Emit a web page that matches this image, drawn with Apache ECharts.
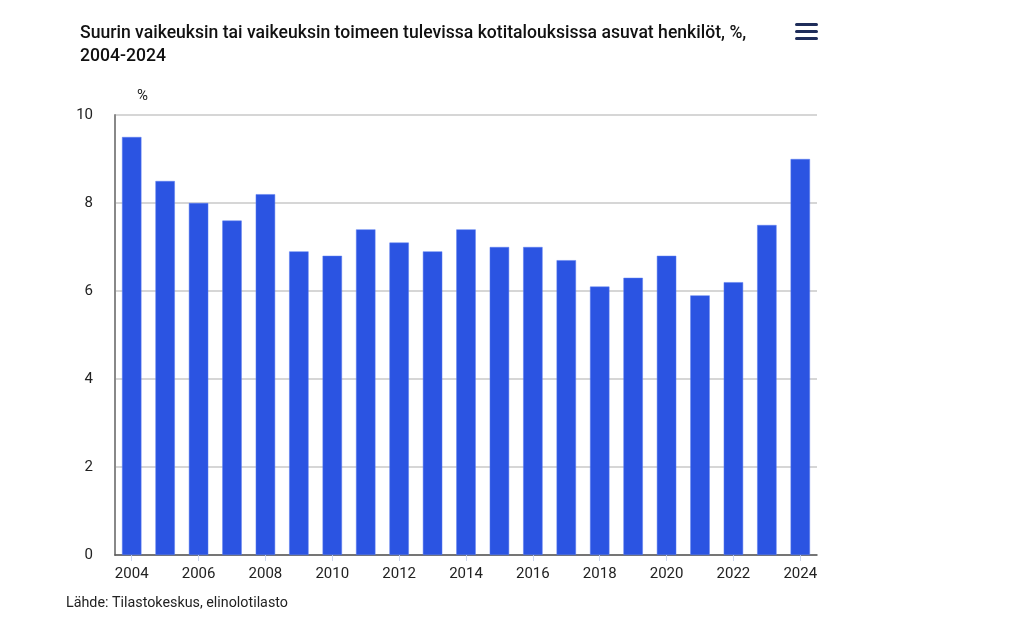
<!DOCTYPE html>
<html><head><meta charset="utf-8">
<style>html,body{margin:0;padding:0;background:#fff}#c{width:1024px;height:620px}</style>
<script src="https://cdn.jsdelivr.net/npm/echarts@6/dist/echarts.min.js"></script>
</head><body><div id="c"></div>
<script>
const years = ['2004','2005','2006','2007','2008','2009','2010','2011','2012','2013','2014','2015','2016','2017','2018','2019','2020','2021','2022','2023','2024'];
const values = [9.5,8.5,8.0,7.6,8.2,6.9,6.8,7.4,7.1,6.9,7.4,7.0,7.0,6.7,6.1,6.3,6.8,5.9,6.2,7.5,9.0];
const yTicks = [0,2,4,6,8,10];
const chart = echarts.init(document.getElementById('c'));
const FONT = 'Roboto';
chart.setOption({
  animation:false,
  title:{
    text:'Suurin vaikeuksin tai vaikeuksin toimeen tulevissa kotitalouksissa asuvat henkilöt, %,\n2004-2024',
    left:75, top:17,
    textStyle:{fontFamily:FONT, fontSize:17.6, fontWeight:500, color:'#111', lineHeight:23}
  },
  graphic:[
    {type:'rect', shape:{x:795,y:23,width:23,height:3,r:1.5}, style:{fill:'#1f2d5a'}},
    {type:'rect', shape:{x:795,y:30,width:23,height:3,r:1.5}, style:{fill:'#1f2d5a'}},
    {type:'rect', shape:{x:795,y:37,width:23,height:3,r:1.5}, style:{fill:'#1f2d5a'}},
    {type:'text', left:66, top:596, style:{text:'Lähde: Tilastokeskus, elinolotilasto', fontFamily:FONT, fontSize:14.3, fill:'#222'}}
  ],
  grid:{left:115, right:207, top:115, bottom:65, containLabel:false},
  xAxis:{
    type:'category', data:years,
    axisLine:{lineStyle:{color:'#555', width:1.5}},
    axisTick:{show:true, alignWithLabel:true, interval:1, length:6, lineStyle:{color:'#ccd6ee'}},
    axisLabel:{interval:1, fontFamily:FONT, fontSize:15, color:'#222', margin:12}
  },
  yAxis:{
    type:'value', min:0, max:10, interval:2,
    name:'%', nameLocation:'end', nameGap:11,
    nameTextStyle:{fontFamily:FONT, fontSize:15, color:'#222', align:'left', padding:[0,0,0,22]},
    axisLine:{show:true, lineStyle:{color:'#888', width:2}},
    axisTick:{show:false},
    axisLabel:{fontFamily:FONT, fontSize:15, color:'#222', margin:22,
      formatter:v=>yTicks.includes(v)?String(v):''},
    splitLine:{lineStyle:{color:'#c8c8c8', width:1.5}}
  },
  series:[{
    type:'bar', data:values, barCategoryGap:'42%',
    itemStyle:{color:'#2b54e2', borderColor:'#5a7cf0', borderWidth:0.5}
  }]
});
</script></body></html>
